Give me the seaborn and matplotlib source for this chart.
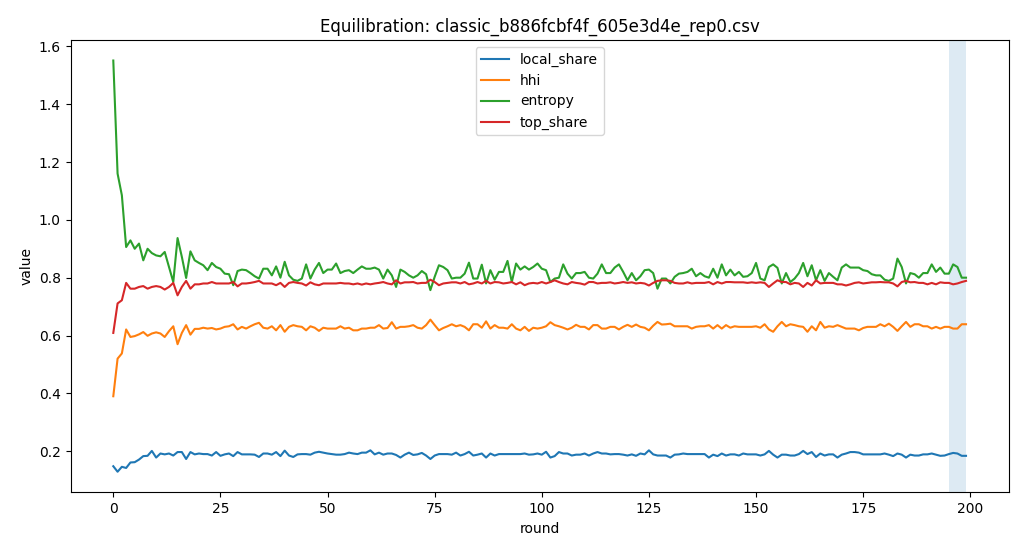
import numpy as np
import pandas as pd
import matplotlib
matplotlib.use("Agg")
import matplotlib.pyplot as plt
import seaborn as sns

rounds = list(range(200))

local_share = [
    0.148, 0.129, 0.146, 0.142, 0.161, 0.162, 0.171, 0.183, 0.184, 0.201,
    0.178, 0.192, 0.189, 0.192, 0.185, 0.197, 0.197, 0.173, 0.197, 0.189,
    0.192, 0.190, 0.190, 0.185, 0.197, 0.184, 0.189, 0.192, 0.183, 0.197,
    0.189, 0.189, 0.189, 0.188, 0.180, 0.192, 0.192, 0.188, 0.197, 0.183,
    0.202, 0.185, 0.180, 0.189, 0.190, 0.190, 0.188, 0.195, 0.198, 0.195,
    0.192, 0.190, 0.188, 0.188, 0.190, 0.195, 0.192, 0.190, 0.195, 0.195,
    0.203, 0.189, 0.195, 0.188, 0.192, 0.192, 0.187, 0.178, 0.188, 0.195,
    0.187, 0.189, 0.194, 0.185, 0.173, 0.185, 0.190, 0.190, 0.190, 0.188,
    0.195, 0.185, 0.190, 0.198, 0.185, 0.188, 0.192, 0.178, 0.192, 0.185,
    0.190, 0.190, 0.190, 0.190, 0.190, 0.190, 0.192, 0.188, 0.189, 0.192,
    0.188, 0.198, 0.178, 0.183, 0.197, 0.192, 0.192, 0.185, 0.188, 0.188,
    0.192, 0.185, 0.192, 0.197, 0.192, 0.192, 0.189, 0.190, 0.190, 0.188,
    0.185, 0.189, 0.184, 0.192, 0.189, 0.203, 0.189, 0.185, 0.185, 0.185,
    0.178, 0.188, 0.189, 0.192, 0.190, 0.190, 0.190, 0.190, 0.190, 0.178,
    0.188, 0.183, 0.192, 0.185, 0.189, 0.189, 0.185, 0.192, 0.189, 0.189,
    0.189, 0.185, 0.189, 0.201, 0.188, 0.178, 0.188, 0.188, 0.185, 0.185,
    0.190, 0.201, 0.190, 0.197, 0.180, 0.192, 0.185, 0.189, 0.189, 0.178,
    0.188, 0.192, 0.197, 0.197, 0.195, 0.189, 0.189, 0.189, 0.189, 0.189,
    0.192, 0.188, 0.183, 0.192, 0.188, 0.178, 0.188, 0.185, 0.185, 0.189,
    0.189, 0.192, 0.188, 0.184, 0.185, 0.190, 0.194, 0.192, 0.184, 0.184,
]

hhi = [
    0.390, 0.520, 0.538, 0.621, 0.595, 0.598, 0.604, 0.612, 0.599, 0.607,
    0.611, 0.607, 0.595, 0.615, 0.632, 0.570, 0.609, 0.636, 0.603, 0.623,
    0.623, 0.627, 0.624, 0.626, 0.621, 0.624, 0.630, 0.632, 0.639, 0.621,
    0.630, 0.624, 0.632, 0.639, 0.644, 0.627, 0.624, 0.632, 0.618, 0.636,
    0.613, 0.630, 0.636, 0.632, 0.630, 0.618, 0.632, 0.627, 0.616, 0.627,
    0.624, 0.624, 0.624, 0.632, 0.624, 0.627, 0.618, 0.618, 0.624, 0.624,
    0.627, 0.627, 0.636, 0.624, 0.626, 0.646, 0.624, 0.630, 0.630, 0.632,
    0.636, 0.627, 0.624, 0.636, 0.655, 0.636, 0.618, 0.626, 0.632, 0.639,
    0.632, 0.636, 0.630, 0.618, 0.639, 0.639, 0.627, 0.649, 0.624, 0.636,
    0.627, 0.627, 0.624, 0.639, 0.624, 0.618, 0.630, 0.616, 0.627, 0.624,
    0.627, 0.632, 0.646, 0.636, 0.632, 0.627, 0.621, 0.627, 0.637, 0.630,
    0.630, 0.621, 0.636, 0.636, 0.624, 0.624, 0.630, 0.630, 0.621, 0.630,
    0.637, 0.630, 0.638, 0.630, 0.627, 0.618, 0.634, 0.647, 0.638, 0.639,
    0.641, 0.632, 0.632, 0.632, 0.632, 0.624, 0.630, 0.632, 0.632, 0.636,
    0.624, 0.636, 0.624, 0.636, 0.627, 0.632, 0.630, 0.630, 0.630, 0.630,
    0.632, 0.627, 0.639, 0.621, 0.613, 0.632, 0.647, 0.632, 0.639, 0.636,
    0.632, 0.630, 0.613, 0.632, 0.618, 0.647, 0.627, 0.632, 0.630, 0.636,
    0.630, 0.624, 0.624, 0.624, 0.618, 0.626, 0.630, 0.630, 0.630, 0.639,
    0.632, 0.641, 0.630, 0.616, 0.632, 0.647, 0.630, 0.639, 0.639, 0.632,
    0.632, 0.624, 0.630, 0.624, 0.630, 0.630, 0.624, 0.624, 0.639, 0.639,
]

entropy = [
    1.551, 1.160, 1.085, 0.906, 0.929, 0.900, 0.918, 0.860, 0.900, 0.885,
    0.877, 0.874, 0.889, 0.837, 0.785, 0.937, 0.872, 0.799, 0.891, 0.860,
    0.851, 0.843, 0.826, 0.851, 0.837, 0.831, 0.814, 0.812, 0.774, 0.823,
    0.828, 0.826, 0.816, 0.805, 0.797, 0.831, 0.831, 0.808, 0.839, 0.800,
    0.855, 0.808, 0.793, 0.789, 0.797, 0.846, 0.797, 0.828, 0.851, 0.816,
    0.828, 0.828, 0.849, 0.816, 0.823, 0.826, 0.816, 0.828, 0.839, 0.831,
    0.831, 0.835, 0.828, 0.797, 0.828, 0.808, 0.768, 0.828, 0.820, 0.808,
    0.800, 0.808, 0.823, 0.812, 0.757, 0.803, 0.843, 0.837, 0.826, 0.797,
    0.800, 0.800, 0.814, 0.852, 0.797, 0.797, 0.845, 0.780, 0.826, 0.793,
    0.820, 0.820, 0.858, 0.785, 0.849, 0.828, 0.839, 0.828, 0.837, 0.849,
    0.831, 0.826, 0.785, 0.797, 0.800, 0.846, 0.814, 0.797, 0.816, 0.816,
    0.820, 0.800, 0.797, 0.814, 0.846, 0.816, 0.816, 0.835, 0.846, 0.820,
    0.791, 0.816, 0.791, 0.805, 0.826, 0.828, 0.816, 0.762, 0.797, 0.797,
    0.780, 0.803, 0.814, 0.816, 0.820, 0.831, 0.805, 0.816, 0.805, 0.800,
    0.831, 0.800, 0.846, 0.808, 0.828, 0.808, 0.820, 0.803, 0.805, 0.816,
    0.851, 0.797, 0.791, 0.837, 0.846, 0.834, 0.780, 0.816, 0.785, 0.797,
    0.816, 0.851, 0.805, 0.843, 0.791, 0.826, 0.789, 0.816, 0.803, 0.791,
    0.835, 0.846, 0.835, 0.835, 0.835, 0.826, 0.823, 0.812, 0.808, 0.808,
    0.793, 0.789, 0.797, 0.866, 0.837, 0.780, 0.816, 0.812, 0.800, 0.816,
    0.816, 0.846, 0.820, 0.835, 0.814, 0.814, 0.846, 0.837, 0.800, 0.800,
]

top_share = [
    0.609, 0.711, 0.722, 0.782, 0.762, 0.762, 0.768, 0.771, 0.762, 0.768,
    0.771, 0.768, 0.759, 0.768, 0.782, 0.739, 0.768, 0.789, 0.762, 0.777,
    0.777, 0.780, 0.780, 0.785, 0.780, 0.780, 0.780, 0.780, 0.785, 0.770,
    0.780, 0.780, 0.782, 0.785, 0.789, 0.780, 0.780, 0.780, 0.774, 0.782,
    0.768, 0.782, 0.785, 0.782, 0.780, 0.773, 0.784, 0.777, 0.774, 0.780,
    0.780, 0.780, 0.780, 0.782, 0.780, 0.780, 0.777, 0.780, 0.776, 0.780,
    0.777, 0.780, 0.782, 0.785, 0.780, 0.777, 0.791, 0.780, 0.784, 0.784,
    0.785, 0.780, 0.782, 0.782, 0.793, 0.785, 0.774, 0.780, 0.782, 0.784,
    0.784, 0.780, 0.785, 0.777, 0.780, 0.785, 0.780, 0.789, 0.780, 0.785,
    0.784, 0.780, 0.782, 0.785, 0.777, 0.784, 0.774, 0.780, 0.782, 0.780,
    0.785, 0.780, 0.785, 0.791, 0.785, 0.780, 0.777, 0.785, 0.782, 0.780,
    0.776, 0.785, 0.785, 0.780, 0.782, 0.782, 0.784, 0.780, 0.782, 0.785,
    0.782, 0.784, 0.780, 0.782, 0.780, 0.773, 0.782, 0.789, 0.791, 0.791,
    0.789, 0.782, 0.780, 0.780, 0.784, 0.780, 0.782, 0.782, 0.782, 0.785,
    0.777, 0.785, 0.780, 0.785, 0.785, 0.784, 0.784, 0.784, 0.782, 0.784,
    0.782, 0.784, 0.782, 0.768, 0.780, 0.791, 0.785, 0.785, 0.777, 0.782,
    0.780, 0.768, 0.782, 0.773, 0.791, 0.780, 0.782, 0.782, 0.782, 0.777,
    0.777, 0.773, 0.777, 0.782, 0.784, 0.780, 0.782, 0.784, 0.784, 0.785,
    0.784, 0.784, 0.780, 0.770, 0.785, 0.789, 0.784, 0.785, 0.782, 0.782,
    0.777, 0.782, 0.777, 0.784, 0.782, 0.782, 0.777, 0.780, 0.785, 0.789,
]

series_names = ["local_share", "hhi", "entropy", "top_share"]
series_values = [local_share, hhi, entropy, top_share]
shade_start, shade_end = 195, 199
title = "Equilibration: classic_b886fcbf4f_605e3d4e_rep0.csv"

fig, ax = plt.subplots(figsize=(10.24, 5.55), dpi=100)
fig.subplots_adjust(left=0.069, right=0.985, top=0.928, bottom=0.113)

colors = ["#1f77b4", "#ff7f0e", "#2ca02c", "#d62728"]
for name, vals, c in zip(series_names, series_values, colors):
    df = pd.DataFrame({"round": rounds, "value": vals})
    sns.lineplot(data=df, x="round", y="value", ax=ax, color=c, label=name, linewidth=1.5)

ax.axvspan(shade_start, shade_end, color="#1f77b4", alpha=0.15, linewidth=0)
ax.set_title(title)
ax.set_xlabel("round")
ax.set_ylabel("value")
ax.legend(loc="upper center")

fig.savefig("out.png", dpi=100)
